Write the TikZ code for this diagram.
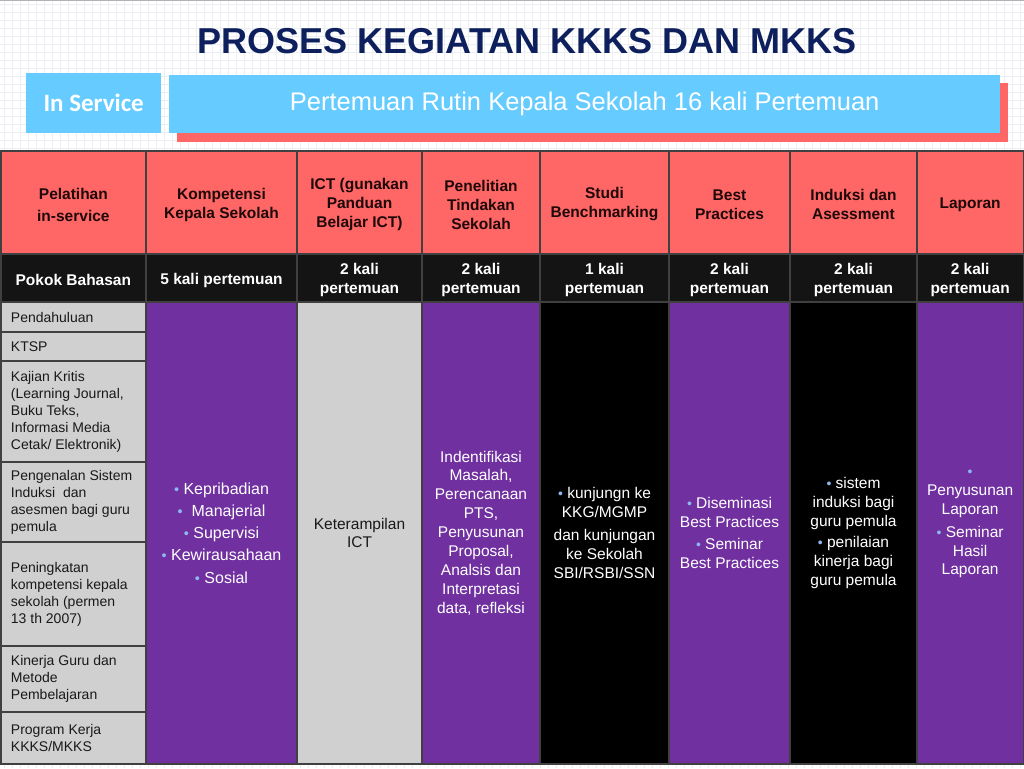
\documentclass[tikz,border=0pt]{standalone}
\usepackage{fontspec}
\setmainfont{Liberation Sans}
\newfontfamily\carlito{Carlito}
\definecolor{gridc}{HTML}{ECEEF3}
\definecolor{navy}{HTML}{0D1F5C}
\definecolor{skyb}{HTML}{66CCFF}
\definecolor{salmon}{HTML}{FF6666}
\definecolor{purp}{HTML}{7030A0}
\definecolor{blkrow}{HTML}{141414}
\definecolor{grayc}{HTML}{D0D0D0}
\definecolor{linec}{HTML}{404040}
\definecolor{bulc}{HTML}{8DB8F0}
\definecolor{hdrtxt}{HTML}{1E0808}
\newcommand\bul{{\color{bulc}\scalebox{0.9}{•}}}
\newcommand\cellbox[6]{\node[#6, anchor=north west, minimum width={(#4-#2)*1pt}, minimum height={(#5-#3)*1pt}] (#1) at (#2,#3) {};}
\tikzset{
  gline/.style={draw=gridc, line width=0.5pt},
  cellbase/.style={rectangle, draw=linec, line width=1.5pt, inner sep=0pt, outer sep=0pt},
  hdrcell/.style={cellbase, fill=salmon},
  blkcell/.style={cellbase, fill=blkrow},
  graycell/.style={cellbase, fill=grayc},
  purpcell/.style={cellbase, fill=purp},
  darkcell/.style={cellbase, fill=black},
  htext/.style={align=center, text=hdrtxt, yshift=-2pt, font=\bfseries\fontsize{15.5}{19}\selectfont},
  btext/.style={align=center, text=white, yshift=-2pt, font=\bfseries\fontsize{15.5}{19.5}\selectfont},
  ltext/.style={align=left, anchor=west, text=black!90, font=\fontsize{14}{17}\selectfont, inner sep=0pt},
  wtext/.style={align=center, text=white, font=\fontsize{15.5}{18.9}\selectfont},
  dtext/.style={align=center, text=black!90, font=\fontsize{15.5}{18.9}\selectfont},
}
\begin{document}
\begin{tikzpicture}[x=1pt,y=-1pt]
\useasboundingbox (0,0) rectangle (1024,768);
\fill[white] (0,0) rectangle (1024,768);
\foreach \i in {4,12,...,1024} \draw[gline] (\i,0) -- (\i,768);
\foreach \j in {4,12,...,768} \draw[gline] (0,\j) -- (1024,\j);
\draw[gray!60, line width=1pt] (0,0.5) -- (1024,0.5);
% title
\node[anchor=base, text=navy, font=\bfseries\fontsize{36}{40}\selectfont, inner sep=0pt] (title) at (527,53) {PROSES KEGIATAN KKKS DAN MKKS};
% in service
\node[anchor=north west, fill=skyb, minimum width=135pt, minimum height=60pt, inner sep=0pt, text=white, font=\carlito\bfseries\fontsize{25}{28}\selectfont] (insvc) at (26,73) {In Service};
\node[anchor=north west, fill=salmon, minimum width=831pt, minimum height=59pt, inner sep=0pt] (shadow) at (177,83) {};
\node[anchor=north west, fill=skyb, minimum width=831pt, minimum height=58pt, inner sep=0pt, text=white, font=\fontsize{25.5}{28}\selectfont] (banner) at (169,75) {Pertemuan Rutin Kepala Sekolah 16 kali Pertemuan};
% header row
\cellbox{h0}{0.75}{151}{146}{254}{hdrcell}
\cellbox{h1}{146}{151}{297}{254}{hdrcell}
\cellbox{h2}{297}{151}{422}{254}{hdrcell}
\cellbox{h3}{422}{151}{540}{254}{hdrcell}
\cellbox{h4}{540}{151}{669}{254}{hdrcell}
\cellbox{h5}{669}{151}{790}{254}{hdrcell}
\cellbox{h6}{790}{151}{917}{254}{hdrcell}
\cellbox{h7}{917}{151}{1023.25}{254}{hdrcell}
\node[htext] (th0) at (h0) {Pelatihan\\[3pt]in-service};
\node[htext] (th1) at (h1) {Kompetensi\\Kepala Sekolah};
\node[htext] (th2) at (h2) {ICT (gunakan\\Panduan\\Belajar ICT)};
\node[htext] (th3) at (h3) {Penelitian\\Tindakan\\Sekolah};
\node[htext] (th4) at (h4) {Studi\\Benchmarking};
\node[htext] (th5) at (h5) {Best\\Practices};
\node[htext] (th6) at (h6) {Induksi dan\\Asessment};
\node[htext] (th7) at (h7) {Laporan};
% black row
\cellbox{k0}{0.75}{254}{146}{302}{blkcell}
\cellbox{k1}{146}{254}{297}{302}{blkcell}
\cellbox{k2}{297}{254}{422}{302}{blkcell}
\cellbox{k3}{422}{254}{540}{302}{blkcell}
\cellbox{k4}{540}{254}{669}{302}{blkcell}
\cellbox{k5}{669}{254}{790}{302}{blkcell}
\cellbox{k6}{790}{254}{917}{302}{blkcell}
\cellbox{k7}{917}{254}{1023.25}{302}{blkcell}
\node[btext] (tk0) at (k0) {Pokok Bahasan};
\node[btext] (tk1) at (k1) {5 kali pertemuan};
\node[btext] (tk2) at (k2) {2 kali\\pertemuan};
\node[btext] (tk3) at (k3) {2 kali\\pertemuan};
\node[btext] (tk4) at (k4) {1 kali\\pertemuan};
\node[btext] (tk5) at (k5) {2 kali\\pertemuan};
\node[btext] (tk6) at (k6) {2 kali\\pertemuan};
\node[btext] (tk7) at (k7) {2 kali\\pertemuan};
% left column
\cellbox{l1}{0.75}{302}{146}{332}{graycell}
\cellbox{l2}{0.75}{332}{146}{361}{graycell}
\cellbox{l3}{0.75}{361}{146}{462}{graycell}
\cellbox{l4}{0.75}{462}{146}{542}{graycell}
\cellbox{l5}{0.75}{542}{146}{646}{graycell}
\cellbox{l6}{0.75}{646}{146}{712}{graycell}
\cellbox{l7}{0.75}{712}{146}{764}{graycell}
\node[ltext] (tl1) at ([xshift=10pt]l1.west) {Pendahuluan};
\node[ltext] (tl2) at ([xshift=10pt]l2.west) {KTSP};
\node[ltext] (tl3) at ([xshift=10pt]l3.west) {Kajian Kritis\\(Learning Journal,\\Buku Teks,\\Informasi Media\\Cetak/ Elektronik)};
\node[ltext] (tl4) at ([xshift=10pt]l4.west) {Pengenalan Sistem\\Induksi\ \ dan\\asesmen bagi guru\\pemula};
\node[ltext] (tl5) at ([xshift=10pt]l5.west) {Peningkatan\\kompetensi kepala\\sekolah (permen\\13 th 2007)};
\node[ltext] (tl6) at ([xshift=10pt]l6.west) {Kinerja Guru dan\\Metode\\Pembelajaran};
\node[ltext] (tl7) at ([xshift=10pt]l7.west) {Program Kerja\\KKKS/MKKS};
% body columns
\cellbox{b1}{146}{302}{297}{764}{purpcell}
\cellbox{b2}{297}{302}{422}{764}{graycell}
\cellbox{b3}{422}{302}{540}{764}{purpcell}
\cellbox{b4}{540}{302}{669}{764}{darkcell}
\cellbox{b5}{669}{302}{790}{764}{purpcell}
\cellbox{b6}{790}{302}{917}{764}{darkcell}
\cellbox{b7}{917}{302}{1023.25}{764}{purpcell}
\node[wtext, font=\fontsize{16}{22.2}\selectfont] (tb1) at (b1) {\bul\ Kepribadian\\\bul\ \ Manajerial\\\bul\ Supervisi\\\bul\ Kewirausahaan\\\bul\ Sosial};
\node[dtext] (tb2) at (b2) {Keterampilan\\ICT};
\node[wtext] (tb3) at (b3) {Indentifikasi\\Masalah,\\Perencanaan\\PTS,\\Penyusunan\\Proposal,\\Analsis dan\\Interpretasi\\data, refleksi};
\node[wtext] (tb4) at (b4) {\bul\ kunjungn ke\\KKG/MGMP\\[4pt]dan kunjungan\\ke Sekolah\\SBI/RSBI/SSN};
\node[wtext] (tb5) at (b5) {\bul\ Diseminasi\\Best Practices\\[4pt]\bul\ Seminar\\Best Practices};
\node[wtext] (tb6) at (b6) {\bul\ sistem\\induksi bagi\\guru pemula\\[3pt]\bul\ penilaian\\kinerja bagi\\guru pemula};
\node[wtext, yshift=9pt] (tb7) at (b7) {\bul\\Penyusunan\\Laporan\\[4pt]\bul\ Seminar\\Hasil\\Laporan};
\end{tikzpicture}
\end{document}
